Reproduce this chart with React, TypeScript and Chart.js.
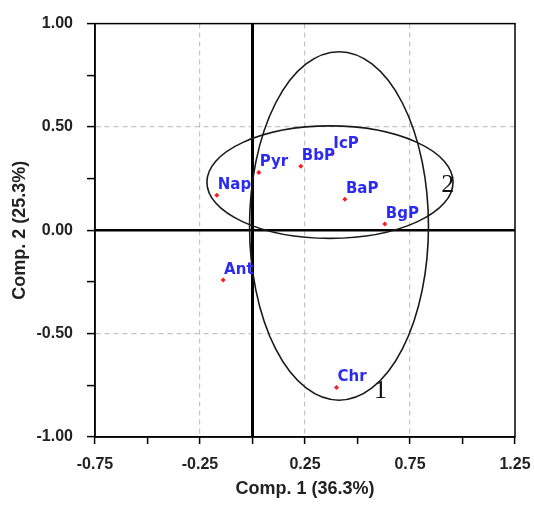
import React, { useEffect, useRef } from "react";
import { Chart, registerables } from "chart.js";

Chart.register(...registerables);

// ---- data ----
const compounds = ["Nap", "Pyr", "BbP", "IcP", "BaP", "BgP", "Ant", "Chr"];
const comp1 = [-0.17, 0.03, 0.23, 0.38, 0.44, 0.63, -0.14, 0.40];
const comp2 = [0.17, 0.28, 0.31, 0.37, 0.15, 0.03, -0.24, -0.76];

const xTickLabels = ["-0.75", "-0.25", "0.25", "0.75", "1.25"];
const yTickLabels = ["-1.00", "-0.50", "0.00", "0.50", "1.00"];

// groups drawn as ellipses: name, centre x, centre y, radius x, radius y (data units)
const groupNames = ["1", "2"];
const groupCx = [0.412, 0.369];
const groupCy = [0.021, 0.233];
const groupRx = [0.426, 0.586];
const groupRy = [0.843, 0.272];
// where the group numbers sit (data units)
const groupLabelX = [0.61, 0.93];
const groupLabelY = [-0.78, 0.22];

const SANS = "'Liberation Sans', Arial, sans-serif";

const overlayPlugin = {
  id: "overlay",
  afterDatasetsDraw(chart: any) {
    const { ctx, chartArea, scales } = chart;
    const xs = scales.x;
    const ys = scales.y;
    ctx.save();
    // frame
    ctx.strokeStyle = "#000";
    ctx.lineWidth = 1.5;
    ctx.strokeRect(chartArea.left, chartArea.top, chartArea.right - chartArea.left, chartArea.bottom - chartArea.top);

    // ellipses
    ctx.strokeStyle = "#1a1a1a";
    ctx.lineWidth = 1.6;
    for (let i = 0; i < groupNames.length; i++) {
      const cx = xs.getPixelForValue(groupCx[i]);
      const cy = ys.getPixelForValue(groupCy[i]);
      const rx = Math.abs(xs.getPixelForValue(groupCx[i] + groupRx[i]) - cx);
      const ry = Math.abs(ys.getPixelForValue(groupCy[i] + groupRy[i]) - cy);
      ctx.beginPath();
      ctx.ellipse(cx, cy, rx, ry, 0, 0, Math.PI * 2);
      ctx.stroke();
    }

    // group numbers
    ctx.fillStyle = "#111";
    ctx.font = "26px 'Liberation Serif', 'Times New Roman', serif";
    ctx.textAlign = "center";
    ctx.textBaseline = "middle";
    for (let i = 0; i < groupNames.length; i++) {
      ctx.fillText(groupNames[i], xs.getPixelForValue(groupLabelX[i]), ys.getPixelForValue(groupLabelY[i]));
    }

    // point labels
    ctx.fillStyle = "#2b2bf2";
    ctx.font = "bold 15px 'DejaVu Sans', sans-serif";
    ctx.textAlign = "left";
    ctx.textBaseline = "alphabetic";
    for (let i = 0; i < compounds.length; i++) {
      const px = xs.getPixelForValue(comp1[i]);
      const py = ys.getPixelForValue(comp2[i]);
      ctx.fillText(compounds[i], px + 1, py - 6);
    }
    ctx.restore();
  },
};

export default function App() {
  const ref = useRef<HTMLCanvasElement | null>(null);

  useEffect(() => {
    if (!ref.current) return;
    const points = comp1.map((x, i) => ({ x, y: comp2[i] }));
    const chart = new Chart(ref.current, {
      type: "scatter",
      data: {
        datasets: [
          {
            label: "h0",
            data: [
              { x: -0.75, y: 0 },
              { x: 1.25, y: 0 },
            ],
            showLine: true,
            borderColor: "#000",
            borderWidth: 2.5,
            pointRadius: 0,
          },
          {
            label: "v0",
            data: [
              { x: 0, y: -1 },
              { x: 0, y: 1 },
            ],
            showLine: true,
            borderColor: "#000",
            borderWidth: 3,
            pointRadius: 0,
          },
          {
            label: "loadings",
            data: points,
            pointStyle: "rectRot",
            pointRadius: 2.5,
            backgroundColor: "#ff1a1a",
            borderColor: "#ff1a1a",
            borderWidth: 0,
          },
        ],
      },
      options: {
        responsive: false,
        animation: false,
        layout: { padding: { top: 21, right: 19, left: 0, bottom: 0 } },
        plugins: {
          legend: { display: false },
          tooltip: { enabled: false },
        },
        scales: {
          x: {
            type: "linear",
            min: -0.75,
            max: 1.25,
            afterFit: (s: any) => {
              s.height = 71;
              s.paddingRight = 0;
              s.paddingLeft = 0;
            },
            ticks: {
              stepSize: 0.25,
              autoSkip: false,
              maxRotation: 0,
              padding: 11,
              color: "#222",
              font: { family: SANS, size: 16, weight: "bold" },
              callback: (v: any) => {
                const s = Number(v).toFixed(2);
                return xTickLabels.includes(s) ? s : "";
              },
            },
            grid: {
              color: (c: any) => {
                const v = c.tick ? Number(c.tick.value).toFixed(2) : "";
                return ["-0.25", "0.25", "0.75"].includes(v) ? "#c4c4c4" : "rgba(0,0,0,0)";
              },
              lineWidth: 1.2,
              tickColor: "#000",
              tickWidth: 1.5,
              tickLength: 7,
              tickBorderDash: [],
            },
            border: { display: true, color: "#000", width: 1.5, dash: [5, 4] },
            title: {
              display: true,
              text: "Comp. 1 (36.3%)",
              color: "#222",
              font: { family: SANS, size: 18, weight: "bold" },
              padding: { top: 4, bottom: 8 },
            },
          },
          y: {
            type: "linear",
            min: -1,
            max: 1,
            afterFit: (s: any) => {
              s.width = 95;
            },
            ticks: {
              stepSize: 0.25,
              autoSkip: false,
              padding: 14,
              color: "#222",
              font: { family: SANS, size: 16, weight: "bold" },
              callback: (v: any) => {
                const s = Number(v).toFixed(2);
                const t = s === "-0.00" ? "0.00" : s;
                return yTickLabels.includes(t) ? t : "";
              },
            },
            grid: {
              color: (c: any) => {
                const v = c.tick ? Number(c.tick.value).toFixed(2) : "";
                return ["-0.50", "0.50"].includes(v) ? "#c4c4c4" : "rgba(0,0,0,0)";
              },
              lineWidth: 1.2,
              tickColor: "#000",
              tickWidth: 1.5,
              tickLength: 8,
              tickBorderDash: [],
            },
            border: { display: true, color: "#000", width: 1.5, dash: [5, 4] },
            title: {
              display: true,
              text: "Comp. 2 (25.3%)",
              color: "#222",
              font: { family: SANS, size: 18, weight: "bold" },
              padding: { top: 9, bottom: 0 },
            },
          },
        },
      },
      plugins: [overlayPlugin],
    } as any);
    return () => chart.destroy();
  }, []);

  return (
    <canvas
      ref={ref}
      width={534}
      height={508}
      style={{ position: "absolute", left: 0, top: 0, display: "block", width: 534, height: 508 }}
    />
  );
}
